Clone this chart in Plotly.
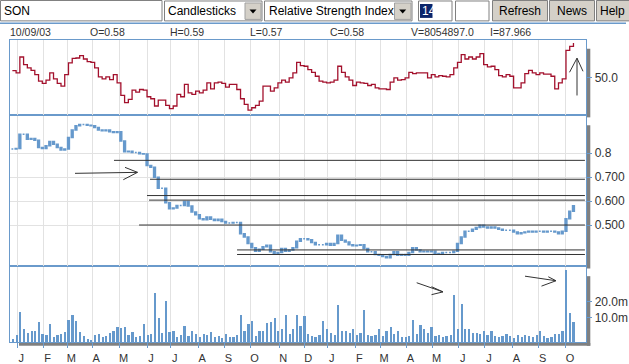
import numpy as np
import plotly.graph_objects as go

# ---------------- data ----------------
TICKER = "SON"
LAST_DATE = "10/09/03"
LAST_O, LAST_H, LAST_L, LAST_C = 0.58, 0.59, 0.57, 0.58
LAST_V = 8054897.0
LAST_I = 87.966

DAY_STEP = 3          # trading days between samples
LAST_DAY = 446        # trading-day index of the last sample (day 0 = first trading day of Jan 2002)

RSI = [58.0, 55.4, 72.8, 64.5, 60.9, 58.3, 53.6, 46.4, 43.9, 47.5,
       55.4, 48.9, 43.9, 41.0, 53.6, 66.3, 71.3, 71.7, 74.2, 70.6,
       67.7, 67.0, 60.9, 51.1, 48.9, 51.1, 48.2, 53.6, 44.6, 30.8,
       22.9, 26.5, 36.6, 34.4, 37.3, 36.6, 29.4, 27.2, 19.3, 25.8,
       25.8, 20.0, 16.4, 19.3, 31.9, 29.4, 42.8, 33.7, 31.9, 35.5,
       33.7, 36.6, 44.6, 38.1, 44.6, 45.3, 43.9, 39.9, 42.8, 42.8,
       37.3, 27.2, 21.1, 14.9, 17.4, 20.0, 24.7, 41.0, 41.0, 35.5,
       39.1, 44.6, 47.5, 45.3, 50.0, 55.4, 67.0, 63.4, 62.7, 59.0,
       56.1, 51.8, 46.4, 45.3, 44.6, 45.3, 47.5, 62.7, 56.1, 51.1,
       47.5, 41.7, 45.3, 44.6, 43.9, 41.7, 42.8, 39.1, 38.1, 38.1,
       37.3, 45.3, 50.0, 47.5, 48.2, 50.0, 56.1, 54.7, 55.4, 55.4,
       55.4, 50.0, 53.6, 51.1, 52.5, 51.8, 51.1, 53.6, 60.9, 67.0,
       75.3, 70.6, 72.8, 70.6, 72.8, 76.4, 64.5, 62.0, 62.7, 59.0,
       52.5, 51.1, 53.6, 51.8, 39.1, 39.1, 44.6, 54.7, 58.3, 55.4,
       53.6, 55.4, 54.0, 54.0, 51.8, 38.1, 44.6, 48.9, 80.0, 84.4,
       87.966]

CLOSE = [0.817, 0.819, 0.879, 0.879, 0.858, 0.861, 0.854, 0.824, 0.819, 0.831,
         0.849, 0.837, 0.824, 0.813, 0.817, 0.865, 0.897, 0.914, 0.920, 0.920,
         0.916, 0.914, 0.907, 0.897, 0.893, 0.897, 0.889, 0.886, 0.889, 0.851,
         0.806, 0.808, 0.803, 0.803, 0.797, 0.796, 0.748, 0.741, 0.699, 0.654,
         0.654, 0.593, 0.568, 0.571, 0.582, 0.582, 0.598, 0.579, 0.554, 0.543,
         0.526, 0.522, 0.533, 0.524, 0.519, 0.524, 0.515, 0.508, 0.508, 0.510,
         0.510, 0.464, 0.450, 0.423, 0.405, 0.391, 0.399, 0.409, 0.416, 0.388,
         0.382, 0.385, 0.402, 0.391, 0.396, 0.405, 0.432, 0.443, 0.443, 0.439,
         0.427, 0.418, 0.418, 0.418, 0.423, 0.416, 0.423, 0.457, 0.436, 0.429,
         0.418, 0.413, 0.416, 0.418, 0.402, 0.388, 0.388, 0.377, 0.374, 0.369,
         0.363, 0.377, 0.388, 0.374, 0.377, 0.374, 0.385, 0.405, 0.396, 0.388,
         0.391, 0.388, 0.391, 0.380, 0.381, 0.385, 0.385, 0.385, 0.391, 0.423,
         0.450, 0.474, 0.474, 0.482, 0.490, 0.499, 0.492, 0.488, 0.492, 0.488,
         0.482, 0.478, 0.478, 0.478, 0.471, 0.464, 0.468, 0.471, 0.474, 0.471,
         0.474, 0.474, 0.471, 0.474, 0.474, 0.471, 0.464, 0.474, 0.526, 0.557,
         0.580]

VOLUME_M = [3.8, 4.6, 12.5, 5.8, 5.0, 5.4, 5.4, 8.0, 4.8, 4.6,
            7.4, 4.2, 4.6, 4.8, 5.1, 8.7, 11.1, 8.4, 5.1, 4.3,
            3.8, 3.6, 4.6, 4.8, 4.2, 4.3, 5.0, 5.4, 6.5, 6.2,
            6.5, 4.6, 5.1, 4.2, 4.3, 7.4, 4.6, 4.8, 29.4, 9.7,
            5.0, 20.3, 5.1, 5.4, 4.2, 4.6, 6.9, 4.4, 5.4, 4.8,
            4.2, 4.8, 4.6, 5.1, 4.2, 4.3, 4.0, 4.8, 4.2, 4.2,
            4.6, 10.8, 5.4, 7.5, 8.6, 4.3, 5.4, 5.4, 7.8, 8.0,
            9.7, 5.4, 5.8, 11.1, 4.8, 5.8, 11.1, 6.7, 10.4, 4.8,
            4.4, 4.2, 4.6, 8.4, 5.8, 5.0, 4.6, 17.0, 5.4, 5.4,
            5.0, 5.8, 4.6, 5.0, 13.6, 4.6, 4.4, 4.6, 5.9, 4.3,
            5.4, 6.4, 4.8, 5.4, 4.2, 4.2, 4.3, 8.7, 4.8, 7.2,
            5.8, 5.0, 6.5, 4.3, 4.6, 4.2, 4.3, 4.6, 27.0, 5.9,
            18.1, 5.8, 5.8, 5.0, 5.0, 4.8, 5.4, 4.6, 5.4, 4.3,
            4.2, 4.4, 4.8, 4.3, 4.0, 4.6, 4.2, 4.6, 4.4, 4.2,
            4.6, 5.4, 4.3, 4.0, 4.2, 4.8, 4.8, 5.4, 83.1, 11.8,
            8.05]

MONTH_START_DAY = [0, 21, 40, 60, 82, 104, 123, 145, 166, 187, 210, 230,
                   249, 271, 291, 312, 333, 354, 375, 397, 418, 440]
MONTH_LABELS = ["J", "F", "M", "A", "M", "J", "J", "A", "S", "O", "N", "D",
                "J", "F", "M", "A", "M", "J", "J", "A", "S", "O"]

PRICE_TICKS = [0.5, 0.6, 0.7, 0.8]
PRICE_TICK_TEXT = ["0.500", "0.600", "0.700", "0.8"]
VOL_TICKS = [10e6, 20e6]
VOL_TICK_TEXT = ["10.0m", "20.0m"]
RSI_TICKS = [50]
RSI_TICK_TEXT = ["50.0"]

# user-drawn horizontal trend lines: start day, price level
TREND_START_DAY = [77.5, 106.4, 104.0, 105.6, 97.6, 176.2, 176.2]
TREND_PRICE = [0.770, 0.691, 0.623, 0.604, 0.500, 0.396, 0.377]
TREND_END_DAY = 455.2

# ---------------- derived ----------------
n = len(CLOSE)
days = LAST_DAY - DAY_STEP * np.arange(n - 1, -1, -1)
close = np.array(CLOSE)
open_ = np.concatenate([[close[0]], close[:-1]])
high = np.maximum(open_, close)
low = np.minimum(open_, close)
volume = np.array(VOLUME_M) * 1e6

W, H = 629, 364
FONT = "Liberation Sans, Arial, sans-serif"
BLUE = "#6699cc"
FRAME = "#6a9acb"
GRID = "#e2e2e2"
RSI_COL = "#a3102c"
TXT = "#333333"


def PX(x):
    return x / W


def PY(y):
    return 1 - y / H


X_DOM = [PX(9.5), PX(586.3)]
RSI_DOM = [PY(115.7), PY(40)]
PRICE_DOM = [PY(267.7), PY(115.7)]
VOL_DOM = [PY(344.3), PY(267.7)]

fig = go.Figure()
fig.add_trace(go.Scatter(x=days, y=RSI, mode="lines",
                         line=dict(color=RSI_COL, width=1.3, shape="hv"),
                         xaxis="x3", yaxis="y3", hoverinfo="skip"))
fig.add_trace(go.Candlestick(x=days, open=open_, high=high, low=low, close=close,
                             increasing=dict(line=dict(color=BLUE, width=1.5), fillcolor=BLUE),
                             decreasing=dict(line=dict(color=BLUE, width=1.5), fillcolor=BLUE),
                             whiskerwidth=0, xaxis="x2", yaxis="y2"))
fig.add_trace(go.Bar(x=days, y=volume, width=1.6,
                     marker=dict(color=BLUE, line=dict(width=0)),
                     xaxis="x", yaxis="y"))

xcommon = dict(domain=X_DOM, range=[-6.3, 456.3], tickmode="array",
               tickvals=MONTH_START_DAY, ticktext=MONTH_LABELS,
               showgrid=True, gridcolor=GRID, gridwidth=1, zeroline=False,
               showline=True, mirror=True, linecolor=FRAME, linewidth=1)
ycommon = dict(side="right", zeroline=False, showline=True, mirror=True,
               linecolor=FRAME, linewidth=1, ticks="outside", ticklen=5,
               tickcolor=FRAME, tickfont=dict(family=FONT, size=12, color=TXT),
               tickmode="array")

shapes = []
# trend lines
for d0, p in zip(TREND_START_DAY, TREND_PRICE):
    shapes.append(dict(type="line", xref="x2", yref="y2", x0=d0, x1=TREND_END_DAY,
                       y0=p, y1=p, line=dict(color="#333333", width=1)))


def prect(x0, y0, x1, y1, fill, line=None, lw=1, layer="above"):
    shapes.append(dict(type="rect", xref="paper", yref="paper",
                       x0=PX(x0), x1=PX(x1), y0=PY(y1), y1=PY(y0),
                       fillcolor=fill, line=dict(color=line or fill, width=lw if line else 0),
                       layer=layer))


def pline(pts, color="#333333", width=1):
    path = "M " + " L ".join(f"{PX(x):.5f},{PY(y):.5f}" for x, y in pts)
    shapes.append(dict(type="path", xref="paper", yref="paper", path=path,
                       line=dict(color=color, width=width)))


# drop shadows
prect(586.8, 49, 590.3, 118, "#808080", layer="below")
prect(586.8, 126, 590.3, 270, "#808080", layer="below")
prect(586.8, 277.7, 590.3, 347.7, "#808080", layer="below")
prect(19, 344.8, 590.3, 347.7, "#808080", layer="below")

# hand-drawn arrows
pline([(75, 174.3), (137.5, 173.3)])
pline([(125, 168.3), (137.5, 173.3), (123.3, 180.7)])
pline([(577, 96), (577, 58.5)])
pline([(569.5, 72.7), (577, 58.5), (583, 71.7)])
pline([(416.7, 284.3), (443, 293.5)])
pline([(431.5, 288.3), (443, 293.5), (431.5, 296.3)])
pline([(525, 277.7), (556, 282.3)])
pline([(548.3, 278.3), (556, 282.3), (541.5, 287.7)])

# toolbar
shapes.append(dict(type="line", xref="paper", yref="paper", x0=0, x1=PX(626),
                   y0=PY(23.3), y1=PY(23.3), line=dict(color=FRAME, width=1.5)))
prect(0.5, 0.5, 162, 21, "white", "#808080")
prect(164.5, 1, 262, 21, "white", "#808080")
prect(245, 3, 261, 19.5, "#d4d0c8", "#a0a0a0")
prect(264.5, 1, 412, 21, "white", "#808080")
prect(394.5, 3, 411, 19.5, "#d4d0c8", "#a0a0a0")
for cx in (253, 402.7):
    shapes.append(dict(type="path", xref="paper", yref="paper",
                       path=f"M {PX(cx-3.5)},{PY(9.5)} L {PX(cx+3.5)},{PY(9.5)} L {PX(cx)},{PY(13.5)} Z",
                       fillcolor="black", line=dict(color="black", width=0)))
prect(418.5, 1, 452, 21, "white", "#808080")
prect(420, 4, 432.5, 18, "#0a246a")
prect(455.5, 1, 489, 21, "white", "#808080")
for bx0, bx1 in ((492.5, 547.5), (549.5, 594.5), (596.5, 640)):
    prect(bx0, 0.5, bx1, 21, "#d4d0c8", "#808080")

ann = []


def ptext(x, y, s, size=12, color="black", anchor="left", family=FONT):
    ann.append(dict(xref="paper", yref="paper", x=PX(x), y=PY(y), text=s,
                    showarrow=False, xanchor=anchor, yanchor="middle",
                    font=dict(family=family, size=size, color=color)))


ptext(2, 11, TICKER)
ptext(166, 11, "Candlesticks")
ptext(266.5, 11, "Relative Strength Index")
ptext(419.5, 11, "14", color="white")
ptext(520, 11, "Refresh", anchor="center")
ptext(572, 11, "News", anchor="center")
ptext(598, 11, "Help")

info = [(8.3, LAST_DATE), (88.3, f"O={LAST_O}"), (168.3, f"H={LAST_H}"),
        (248.3, f"L={LAST_L}"), (328, f"C={LAST_C}"), (409, f"V={LAST_V}"),
        (488, f"I={LAST_I}")]
for x, s in info:
    ptext(x, 32.5, s, size=10.5, color=TXT)

fig.update_layout(
    width=W, height=H, autosize=False,
    margin=dict(l=0, r=0, t=0, b=0),
    paper_bgcolor="white", plot_bgcolor="white",
    showlegend=False,
    font=dict(family=FONT, color=TXT),
    xaxis=dict(**xcommon, anchor="y", ticks="outside", ticklen=5, tickcolor=FRAME,
               tickfont=dict(family=FONT, size=11, color=TXT), ticklabelshift=4),
    xaxis2=dict(**xcommon, anchor="y2", matches="x", showticklabels=False, ticks="",
                rangeslider=dict(visible=False)),
    xaxis3=dict(**xcommon, anchor="y3", matches="x", showticklabels=False, ticks=""),
    yaxis=dict(**ycommon, domain=VOL_DOM, anchor="x", type="log",
               range=[6.517, 7.990], tickvals=VOL_TICKS, ticktext=VOL_TICK_TEXT,
               showgrid=False),
    yaxis2=dict(**ycommon, domain=PRICE_DOM, anchor="x2", range=[0.328, 0.959],
                tickvals=PRICE_TICKS, ticktext=PRICE_TICK_TEXT,
                showgrid=True, gridcolor=GRID),
    yaxis3=dict(**ycommon, domain=RSI_DOM, anchor="x3", range=[9.4, 91.6],
                tickvals=RSI_TICKS, ticktext=RSI_TICK_TEXT, showgrid=False),
    shapes=shapes,
    annotations=ann,
    bargap=0,
)

fig.write_html("out.html", config={"displayModeBar": False},
               post_script="document.body.style.margin='0px';document.body.style.overflow='hidden';")
